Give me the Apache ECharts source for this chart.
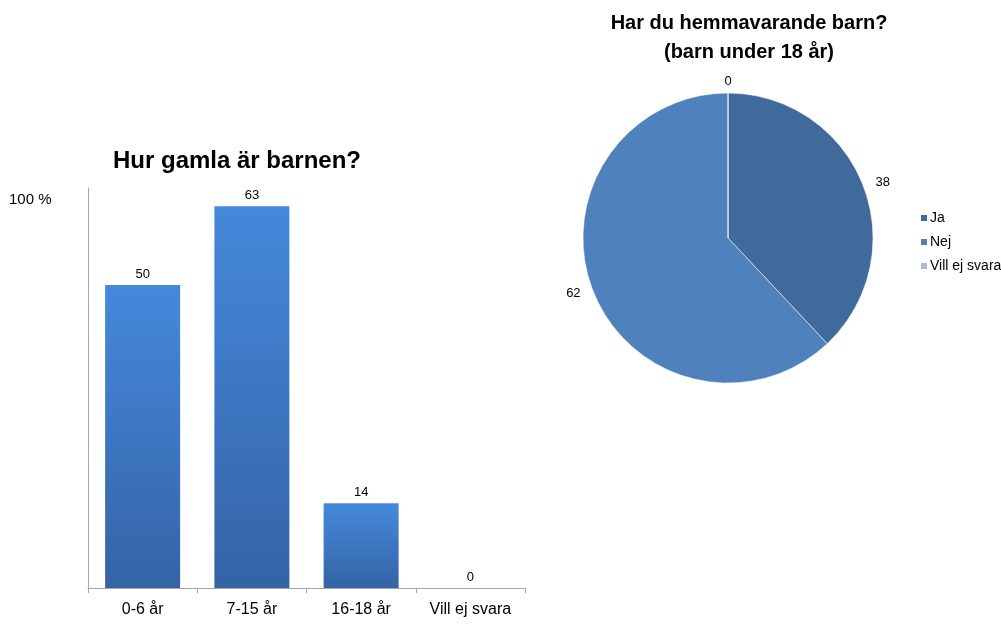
<!DOCTYPE html>
<html>
<head>
<meta charset="utf-8">
<script src="https://cdn.jsdelivr.net/npm/echarts@6/dist/echarts.min.js"></script>
<style>
html, body { margin: 0; padding: 0; background: #fff; }
#chart { width: 1001px; height: 624px; }
</style>
</head>
<body>
<div id="chart"></div>
<script>
// stapeldiagram: hur gamla är barnen
const ageCategories = ['0-6 år', '7-15 år', '16-18 år', 'Vill ej svara'];
const ageValues = [50, 63, 14, 0];
const ageAxisMax = 66;
const ageAxisLabel = '100 %';

// cirkeldiagram: hemmavarande barn
const homeNames = ['Ja', 'Nej', 'Vill ej svara'];
const homeValues = [38, 62, 0];
const homeColors = ['#406a9c', '#4f81bd', '#a9bbdd'];

const font = 'Liberation Sans, Arial, sans-serif';

const myChart = echarts.init(document.getElementById('chart'));

const option = {
    backgroundColor: '#fff',
    animation: false,
    title: [
        {
            text: 'Hur gamla är barnen?',
            left: 232,
            top: 144,
            textAlign: 'center',
            textStyle: { fontFamily: font, fontSize: 24, fontWeight: 'bold', color: '#000' }
        },
        {
            text: 'Har du hemmavarande barn?\n(barn under 18 år)',
            left: 744,
            top: 4,
            textAlign: 'center',
            textStyle: { fontFamily: font, fontSize: 20, fontWeight: 'bold', color: '#000', lineHeight: 29 }
        }
    ],
    graphic: [
        {
            type: 'text',
            left: 9,
            top: 192,
            style: { text: ageAxisLabel, font: '15px ' + font, fill: '#000' }
        }
    ],
    legend: {
        orient: 'vertical',
        left: 914,
        top: 206,
        itemWidth: 8,
        itemHeight: 8,
        itemGap: 10,
        icon: 'rect',
        data: homeNames,
        textStyle: { fontFamily: font, fontSize: 14, color: '#000', padding: [0, 0, 0, -3] }
    },
    grid: {
        left: 88,
        right: 476,
        top: 188,
        bottom: 36
    },
    xAxis: {
        type: 'category',
        data: ageCategories,
        axisLine: { lineStyle: { color: '#a6a6a6' } },
        axisTick: { show: true, length: 5, lineStyle: { color: '#a6a6a6' } },
        axisLabel: { fontFamily: font, fontSize: 16, color: '#000', margin: 14 }
    },
    yAxis: {
        type: 'value',
        min: 0,
        max: ageAxisMax,
        axisLine: { show: true, lineStyle: { color: '#a6a6a6' } },
        axisTick: { show: false },
        axisLabel: { show: false },
        splitLine: { show: false }
    },
    series: [
        {
            type: 'bar',
            data: ageValues,
            barWidth: 75,
            itemStyle: {
                color: new echarts.graphic.LinearGradient(0, 0, 0, 1, [
                    { offset: 0, color: '#4589db' },
                    { offset: 1, color: '#3563a6' }
                ])
            },
            label: {
                show: true,
                position: 'top',
                distance: 4,
                fontFamily: font,
                fontSize: 13,
                color: '#000'
            }
        },
        {
            type: 'pie',
            center: [728, 238],
            radius: 145,
            startAngle: 90,
            clockwise: true,
            minShowLabelAngle: 0,
            stillShowZeroSum: true,
            data: homeNames.map(function (name, i) {
                return { name: name, value: homeValues[i], itemStyle: { color: homeColors[i] } };
            }),
            itemStyle: { borderColor: '#fff', borderWidth: 0.5 },
            label: {
                show: true,
                position: 'outside',
                formatter: '{c}',
                fontFamily: font,
                fontSize: 13,
                color: '#000'
            },
            labelLine: { show: false, length: 6, length2: 2 },
            // nollsektorn ligger rakt uppåt, centrera dess etikett
            labelLayout: function (params) {
                if (params.seriesIndex === 1 && params.dataIndex === 2) {
                    return { dx: -params.labelRect.width / 2 - 7, dy: -6 };
                }
            },
            emphasis: { disabled: true }
        }
    ]
};

myChart.setOption(option);

window.addEventListener('resize', function () {
    myChart.resize();
});
</script>
</body>
</html>
